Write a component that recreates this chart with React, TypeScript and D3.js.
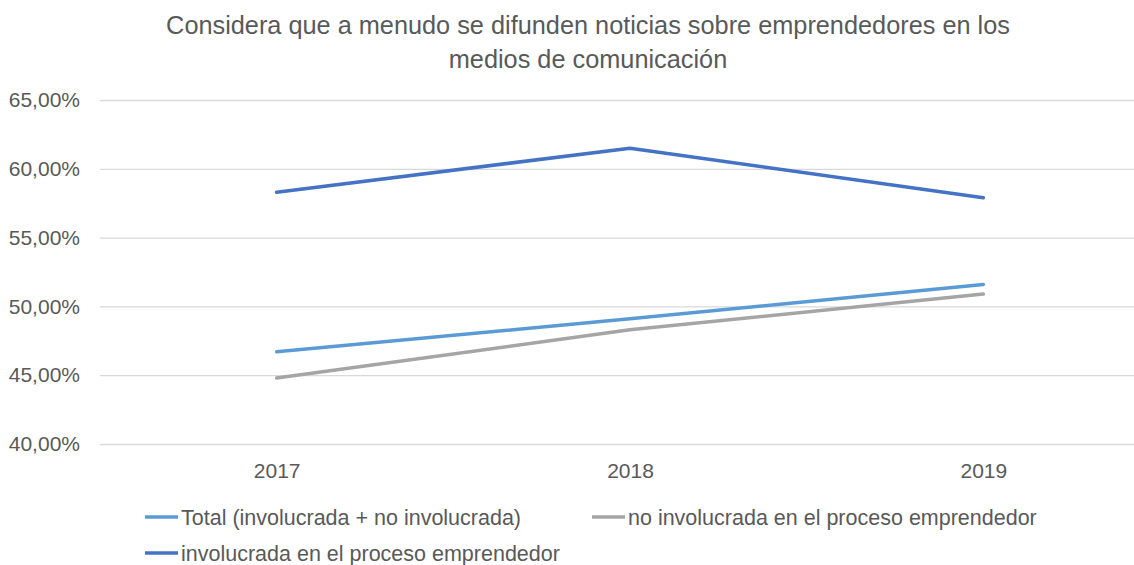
import {useEffect, useRef} from "react";
import * as d3 from "d3";

const years = ["2017", "2018", "2019"];
const totalValues = [46.7, 49.1, 51.6];
const noInvolucradaValues = [44.8, 48.3, 50.9];
const involucradaValues = [58.3, 61.5, 57.9];
const yTicks = [40, 45, 50, 55, 60, 65];
const titleLines = [
    "Considera que a menudo se difunden noticias sobre emprendedores en los",
    "medios de comunicación",
];

const series = [
    {name: "Total (involucrada + no involucrada)", values: totalValues, color: "#5B9BD5"},
    {name: "no involucrada en el proceso emprendedor", values: noInvolucradaValues, color: "#A5A5A5"},
    {name: "involucrada en el proceso emprendedor", values: involucradaValues, color: "#4472C4"},
];

export default function App() {
    const chartRef = useRef<SVGSVGElement>(null);

    useEffect(() => {
        const width = 1134;
        const height = 565;
        const marginLeft = 100;
        const plotRight = 1160; // plot continues past the picture edge
        const marginTop = 100;
        const plotBottom = 444;
        const font = "'Liberation Sans', Arial, sans-serif";
        const textColor = "#595959";

        if (!chartRef.current) {
            return;
        }
        document.body.style.margin = "0";

        const svg = d3.select(chartRef.current)
            .attr("width", width)
            .attr("height", height)
            .attr("viewBox", [0, 0, width, height])
            .style("display", "block")
            .style("background", "#fff");
        svg.selectAll("*").remove();

        const xScale = d3.scalePoint<string>()
            .domain(years)
            .range([marginLeft, plotRight])
            .padding(0.5);

        const yScale = d3.scaleLinear()
            .domain([40, 65])
            .range([plotBottom, marginTop]);

        // title
        svg.append("g")
            .selectAll("text")
            .data(titleLines)
            .join("text")
            .attr("x", 588)
            .attr("y", (d, i) => 34 + i * 34)
            .attr("text-anchor", "middle")
            .attr("font-family", font)
            .attr("font-size", 25.3)
            .attr("fill", textColor)
            .text(d => d);

        // y axis with gridlines
        const yAxis = svg.append("g")
            .attr("transform", `translate(${marginLeft},0)`)
            .call(d3.axisLeft(yScale)
                .tickValues(yTicks)
                .tickSize(-(plotRight - marginLeft))
                .tickPadding(20)
                .tickFormat(d => `${(d as number).toFixed(2).replace(".", ",")}%`));
        yAxis.select(".domain").remove();
        yAxis.selectAll(".tick line").attr("stroke", "#D9D9D9").attr("stroke-width", 1.3);
        yAxis.selectAll(".tick text")
            .attr("font-family", font)
            .attr("font-size", 21)
            .attr("fill", textColor);

        // x axis labels
        const xAxis = svg.append("g")
            .attr("transform", `translate(0,${plotBottom})`)
            .call(d3.axisBottom(xScale).tickSize(0).tickPadding(19));
        xAxis.select(".domain").remove();
        xAxis.selectAll(".tick text")
            .attr("font-family", font)
            .attr("font-size", 21)
            .attr("fill", textColor);

        const line = d3.line<number>()
            .x((d, i) => xScale(years[i])!)
            .y(d => yScale(d));

        svg.append("g")
            .selectAll("path")
            .data(series)
            .join("path")
            .attr("d", d => line(d.values))
            .attr("fill", "none")
            .attr("stroke", d => d.color)
            .attr("stroke-width", 3.5)
            .attr("stroke-linejoin", "round")
            .attr("stroke-linecap", "round");

        // legend
        const legendPos = [[145, 517], [592, 517], [145, 553]];
        const legend = svg.append("g")
            .selectAll("g")
            .data(series)
            .join("g")
            .attr("transform", (d, i) => `translate(${legendPos[i][0]},${legendPos[i][1]})`);
        legend.append("line")
            .attr("x1", 0)
            .attr("x2", 33)
            .attr("stroke", d => d.color)
            .attr("stroke-width", 3.5);
        legend.append("text")
            .attr("x", 36)
            .attr("dy", "0.35em")
            .attr("font-family", font)
            .attr("font-size", 21.5)
            .attr("fill", textColor)
            .text(d => d.name);
    }, []);

    return (
        <svg ref={chartRef}/>
    );
}
